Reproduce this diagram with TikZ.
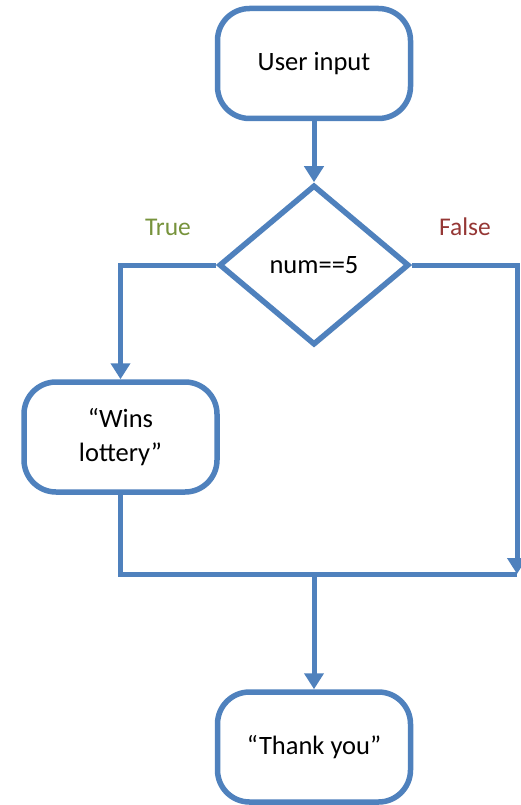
\documentclass[tikz,border=0pt]{standalone}
\usepackage{fontspec}
\setmainfont{Carlito}
\usetikzlibrary{arrows.meta,shapes.geometric,shadows}
\definecolor{flowblue}{HTML}{4F81BD}
\definecolor{truegreen}{HTML}{77933C}
\definecolor{falsered}{HTML}{953735}
\tikzset{
  term/.style={draw=flowblue, line width=5.5pt, fill=white, rounded corners=32pt,
    minimum width=193pt, minimum height=110pt, inner sep=0pt, align=center,
    font=\fontsize{26.5}{34}\selectfont,
    drop shadow={opacity=0.18, shadow xshift=1.5pt, shadow yshift=-2.5pt}},
  decision/.style={draw=flowblue, line width=5.5pt, fill=white, shape=diamond,
    minimum width=190pt, minimum height=160pt, inner sep=0pt, align=center,
    font=\fontsize{26.5}{34}\selectfont,
    drop shadow={opacity=0.18, shadow xshift=1.5pt, shadow yshift=-2.5pt}},
  link/.style={draw=flowblue, line width=5pt},
  arr/.style={link, -{Triangle[width=19pt,length=16pt]}},
  lbl/.style={font=\fontsize{25.5}{30}\selectfont, inner sep=0pt}
}
\begin{document}
\begin{tikzpicture}[x=1pt,y=-1pt]
\useasboundingbox (0,0) rectangle (520,805);
\node[term] (ui) at (314,63.5) {User input};
\node[decision] (dec) at (314,265) {num==5};
\node[term] (wins) at (120.5,437) {“Wins\\lottery”};
\node[term] (ty) at (314,747) {“Thank you”};
\node[lbl, text=truegreen] (t) at (168,227) {True};
\node[lbl, text=falsered] (f) at (465,227) {False};
\coordinate (rc) at (517,574);
\coordinate (j) at (314,574);
\draw[arr] (ui.south) -- (dec.north);
\draw[arr] (dec.west) -| (wins.north);
\draw[arr] (dec.east) -| (rc);
\draw[link] (wins.south) |- (rc);
\draw[arr] (j) -- (ty.north);
\end{tikzpicture}
\end{document}
